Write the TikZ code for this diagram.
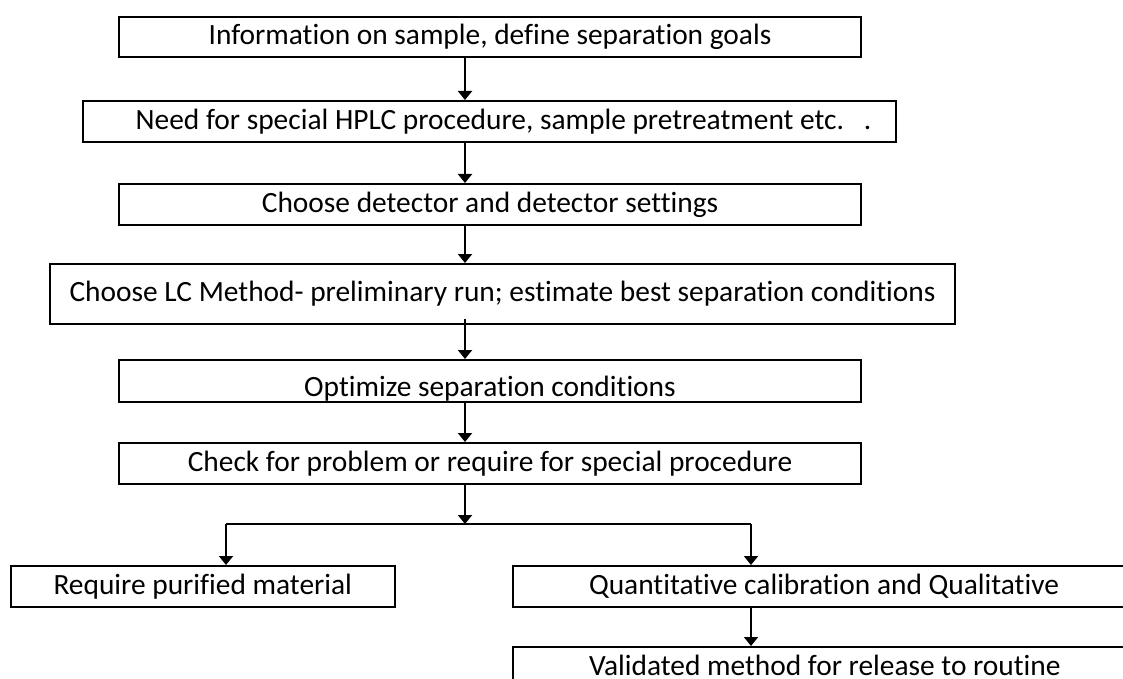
\documentclass[tikz,border=0pt]{standalone}
\usepackage{fontspec}
\setmainfont{Carlito}[Ligatures=NoCommon]
\usetikzlibrary{arrows.meta}
\tikzstyle{every node}=[font=\fontsize{14.7}{17}\selectfont]
\tikzstyle{procbox}=[draw,
                     line width=1pt,
                     anchor=north west,
                     inner sep=0pt,
                     minimum height=20.5pt,
                     text height=10.6pt,
                     text depth=3pt]
\tikzstyle{flow}=[->,line width=1pt]

\begin{document}
\begin{tikzpicture}[x=0.5pt,y=-0.5pt,>={Triangle[length=4.5pt,width=7pt]}]
\useasboundingbox (0,0) rectangle (1123,679);
\node (info)      [procbox,minimum width=371pt,minimum height=20pt] at (118,16) {Information on sample, define separation goals};
\node (need)      [procbox,minimum width=406.5pt] at (82,100) {\hspace*{14pt}Need for special HPLC procedure, sample pretreatment etc.\ \ \ .};
\node (detector)  [procbox,minimum width=371pt] at (118,183) {Choose detector and detector settings};
\node (lcmethod)  [procbox,minimum width=452.5pt,minimum height=30pt] at (49,263) {Choose LC Method- preliminary run; estimate best separation conditions};
\node (optimize)  [procbox,minimum width=371pt,minimum height=21pt] at (118,359) {\raisebox{-4pt}{Optimize separation conditions}};
\node (check)     [procbox,minimum width=371pt] at (118,442) {Check for problem or require for special procedure};
\node (purified)  [procbox,minimum width=191.75pt] at (10,565) {Require purified material};
\node (quant)     [procbox,text width=250pt,inner xsep=38pt,align=flush left] at (512,565) {Quantitative calibration and Qualitative};
\node (validated) [procbox,text width=250pt,inner xsep=38pt,align=flush left] at (512,646) {Validated method for release to routine};
% spine and fork
\coordinate (spine) at (465,0);
\coordinate (fork) at (465,524);
\coordinate (lf) at (226,524);
\coordinate (rf) at (751,524);
\draw[flow] (info.south -| spine) -- (need.north -| spine);
\draw[flow] (need.south -| spine) -- (detector.north -| spine);
\draw[flow] (detector.south -| spine) -- (lcmethod.north -| spine);
\draw[flow] ([yshift=3pt]lcmethod.south -| spine) -- (optimize.north -| spine);
\draw[flow] (optimize.south -| spine) -- (check.north -| spine);
\draw[flow] (check.south -| spine) -- (fork);
\draw[line width=1pt] (lf) -- (rf);
\draw[flow] (lf) -- (lf |- purified.north);
\draw[flow] (rf) -- (rf |- quant.north);
\draw[flow] (quant.south -| rf) -- (validated.north -| rf);
\end{tikzpicture}
\end{document}
